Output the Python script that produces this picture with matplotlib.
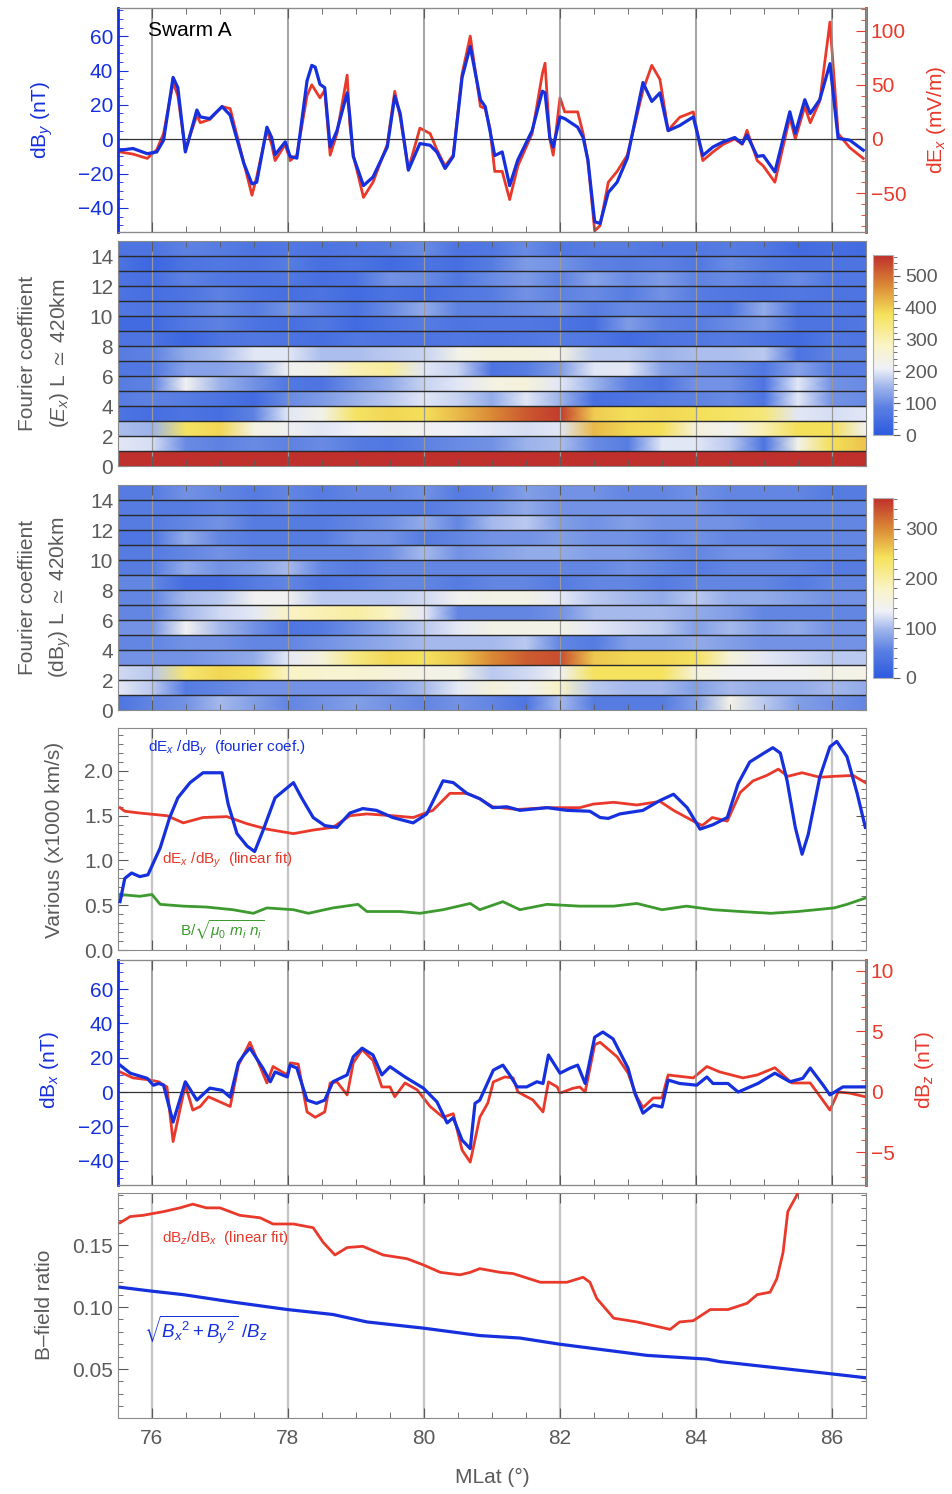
import numpy as np
import matplotlib
matplotlib.use("Agg")
import matplotlib.pyplot as plt
from matplotlib.colors import LinearSegmentedColormap, Normalize
from matplotlib.cm import ScalarMappable
from matplotlib.ticker import MultipleLocator, FormatStrFormatter

plt.rcParams["font.family"] = ["Liberation Sans", "DejaVu Sans"]
plt.rcParams["mathtext.fontset"] = "custom"
plt.rcParams["mathtext.rm"] = "Liberation Sans"
plt.rcParams["mathtext.it"] = "Liberation Sans:italic"
plt.rcParams["mathtext.fallback"] = "stixsans"

W, H = 953, 1494
BLUE = "#1530dc"
RED = "#e8392b"
GREEN = "#3d9a2f"
GRAY = "#5a5a5a"
XLIM = (75.5, 86.5)

# ---- panel 1: dBy (nT) and dEx (mV/m)
by_lat = [75.53, 75.72, 75.93, 76.07, 76.17, 76.31, 76.38, 76.49, 76.66, 76.71, 76.85, 77.03, 77.15,
          77.35, 77.47, 77.54, 77.69, 77.76, 77.81, 77.96, 78.03, 78.13, 78.28, 78.35, 78.40, 78.47,
          78.54, 78.62, 78.72, 78.87, 78.91, 78.96, 79.11, 79.25, 79.46, 79.57, 79.65, 79.77, 79.94,
          80.09, 80.19, 80.31, 80.43, 80.56, 80.68, 80.83, 80.90, 80.97, 81.04, 81.15, 81.26, 81.38,
          81.59, 81.74, 81.78, 81.85, 81.90, 82.00, 82.07, 82.26, 82.34, 82.41, 82.51, 82.59, 82.71,
          82.84, 82.99, 83.22, 83.35, 83.47, 83.59, 83.76, 83.96, 84.10, 84.25, 84.40, 84.57, 84.68,
          84.75, 84.90, 84.99, 85.16, 85.38, 85.46, 85.60, 85.68, 85.82, 85.97, 86.09, 86.26, 86.46]
by_val = [-6.4, -5.4, -8.4, -7.4, -0.6, 36, 30, -7.4, 17, 13, 12, 19, 14,
          -14, -26, -25, 7, 1, -9, -1.5, -10, -11, 34, 43, 42, 32,
          30, -4.5, 5, 27, 13, -10, -27, -22, -4.5, 25, 15, -18, -2.5,
          -3.5, -7.5, -17, -10, 36, 54, 23, 19, 5, -9.5, -7.4, -27, -12,
          5, 28, 27, 1, -4.5, 13, 12, 7, 1, -12, -48, -49, -31,
          -25, -11, 33, 22, 27, 5, 8, 13, -9.5, -4.5, -1.5, 1, -2.5,
          2.5, -10, -9.5, -19, 16, 3.5, 23, 15, 23, 44, 0.5, -0.5, -6.4]
ex_val = [-12, -14, -18, -10, 5, 52, 40, -10, 22, 15, 18, 30, 28,
          -22, -52, -35, 8, -5, -20, -5, -20, -15, 40, 50, 45, 38,
          45, -15, 5, 59, 13, -15, -54, -40, -5, 44, 20, -28, 10,
          5, -10, -25, -15, 60, 95, 30, 28, 10, -30, -30, -56, -25,
          5, 60, 70, 0, -15, 38, 25, 25, 5, -20, -85, -80, -40,
          -30, -15, 45, 68, 55, 8, 20, 25, -20, -12, -5, 0, -5,
          8, -20, -25, -40, 20, 0, 30, 15, 35, 108, 5, -8, -18]

# ---- panel 4: velocities (x1000 km/s)
four_lat = [75.53, 75.60, 75.70, 75.82, 75.94, 76.12, 76.26, 76.38, 76.56, 76.75, 77.03, 77.12, 77.25,
            77.40, 77.51, 77.63, 77.81, 78.08, 78.20, 78.37, 78.54, 78.72, 78.91, 79.10, 79.30, 79.54,
            79.84, 80.04, 80.28, 80.43, 80.63, 80.82, 81.01, 81.22, 81.41, 81.81, 82.10, 82.44, 82.59,
            82.71, 82.88, 83.22, 83.47, 83.67, 83.87, 84.06, 84.25, 84.46, 84.62, 84.79, 85.00, 85.13,
            85.24, 85.34, 85.46, 85.56, 85.65, 85.82, 85.97, 86.07, 86.22, 86.37, 86.49]
four_val = [0.54, 0.80, 0.86, 0.82, 0.84, 1.14, 1.48, 1.70, 1.87, 1.98, 1.98, 1.63, 1.30,
            1.16, 1.10, 1.33, 1.70, 1.87, 1.70, 1.48, 1.39, 1.37, 1.53, 1.58, 1.56, 1.48,
            1.42, 1.52, 1.89, 1.87, 1.75, 1.69, 1.59, 1.60, 1.56, 1.59, 1.56, 1.55, 1.48,
            1.47, 1.52, 1.56, 1.67, 1.74, 1.59, 1.35, 1.40, 1.48, 1.86, 2.10, 2.20, 2.26,
            2.20, 1.89, 1.37, 1.07, 1.29, 1.93, 2.27, 2.33, 2.16, 1.75, 1.37]
lin_lat = [75.53, 75.60, 75.82, 76.22, 76.46, 76.75, 77.10, 77.40, 77.69, 78.08, 78.37, 78.66, 78.91,
           79.16, 79.54, 79.84, 80.13, 80.38, 80.63, 80.82, 81.01, 81.37, 81.81, 82.29, 82.49, 82.79,
           83.13, 83.47, 83.67, 83.96, 84.09, 84.24, 84.46, 84.65, 84.84, 85.04, 85.21, 85.35, 85.56,
           85.82, 86.03, 86.31, 86.49]
lin_val = [1.59, 1.55, 1.53, 1.50, 1.42, 1.48, 1.49, 1.41, 1.35, 1.30, 1.34, 1.37, 1.50,
           1.52, 1.50, 1.48, 1.56, 1.75, 1.75, 1.69, 1.60, 1.57, 1.59, 1.59, 1.63, 1.65,
           1.62, 1.66, 1.56, 1.44, 1.39, 1.48, 1.44, 1.76, 1.89, 1.95, 2.02, 1.94, 1.98,
           1.93, 1.94, 1.95, 1.87]
alf_lat = [75.53, 75.82, 76.00, 76.12, 76.46, 76.80, 77.19, 77.49, 77.69, 78.08, 78.30, 78.66, 79.03,
           79.16, 79.65, 79.94, 80.28, 80.68, 80.82, 81.16, 81.41, 81.81, 82.29, 82.79, 83.13, 83.50,
           83.86, 84.25, 84.65, 85.10, 85.50, 86.03, 86.22, 86.49]
alf_val = [0.62, 0.60, 0.62, 0.51, 0.49, 0.48, 0.45, 0.41, 0.47, 0.45, 0.41, 0.47, 0.51,
           0.43, 0.43, 0.41, 0.45, 0.52, 0.45, 0.54, 0.45, 0.51, 0.49, 0.49, 0.52, 0.45,
           0.49, 0.45, 0.43, 0.41, 0.43, 0.47, 0.51, 0.58]

# ---- panel 5: dBx (nT) and dBz (nT)
bx_lat = [75.53, 75.68, 75.93, 76.02, 76.10, 76.17, 76.31, 76.49, 76.66, 76.85, 77.03, 77.15, 77.27,
          77.35, 77.44, 77.63, 77.74, 77.81, 77.99, 78.03, 78.13, 78.28, 78.42, 78.54, 78.66, 78.87,
          78.96, 79.09, 79.25, 79.38, 79.50, 79.72, 79.99, 80.19, 80.34, 80.43, 80.56, 80.68, 80.75,
          80.82, 81.02, 81.16, 81.26, 81.37, 81.51, 81.66, 81.75, 81.83, 82.00, 82.15, 82.26, 82.37,
          82.51, 82.63, 82.78, 83.00, 83.10, 83.22, 83.37, 83.50, 83.59, 83.76, 84.01, 84.16, 84.25,
          84.47, 84.62, 84.91, 85.16, 85.38, 85.57, 85.68, 85.87, 85.97, 86.16, 86.49]
bx_val = [15.7, 11, 8, 4, 5, 4, -17.5, 6, -4.7, 2.3, 1, -3, 17,
          21.6, 25.6, 14, 6, 11.7, 8.8, 15.7, 14, -4.7, -6.6, -4.7, 6, 10,
          20.6, 25.6, 21.6, 10, 14.8, 8.8, 2.3, -5.7, -18, -15, -28, -33, -6.6,
          -4.7, 12.8, 15.7, 10, 3, 3, 6, 5, 21.6, 11, 14, 15.7, 5,
          32, 35, 31, 14, -0.6, -12.3, -7.6, -8.7, 7, 5, 4, 8.8, 5,
          5, 0, 5, 11, 6, 8, 14, 4, -1.7, 3, 3]
bz_lat = [75.53, 75.72, 75.97, 76.10, 76.22, 76.31, 76.49, 76.60, 76.71, 76.83, 77.15, 77.27, 77.44,
          77.69, 77.78, 77.99, 78.03, 78.15, 78.28, 78.40, 78.54, 78.62, 78.72, 78.87, 78.96, 79.09,
          79.25, 79.38, 79.50, 79.57, 79.72, 79.90, 80.09, 80.28, 80.43, 80.56, 80.68, 80.82, 80.94,
          81.02, 81.19, 81.31, 81.38, 81.60, 81.75, 81.83, 81.96, 82.00, 82.19, 82.29, 82.37, 82.51,
          82.59, 82.84, 83.00, 83.13, 83.22, 83.37, 83.50, 83.59, 83.96, 84.16, 84.35, 84.69, 84.90,
          85.16, 85.41, 85.68, 85.97, 86.09, 86.26, 86.49]
bz_val = [1.65, 1.16, 0.99, 0.83, 0.41, -4.1, 0.58, -1.5, -1.2, -0.4, -1.2, 2.2, 4.1,
          0.74, 2.1, 1.4, 2.4, 2.3, -1.65, -2.1, -1.65, 0.74, 0.83, -0.25, 2.4, 3.5,
          2.6, 0.41, 0.41, -0.4, 0.74, 0.17, -1.2, -2.1, -1.8, -4.8, -5.8, -2.1, -0.9,
          0.83, 1.24, 1.16, 0.0, -0.66, -1.65, 0.83, 0.41, -0.1, 0.3, 0.41, 0.0, 3.9,
          4.1, 2.9, 1.57, -0.4, -1.3, -0.5, -0.5, 1.4, 1.16, 2.1, 1.65, 1.16, 1.4,
          2.0, 0.74, 0.74, -1.5, 0.0, -0.1, -0.4]

# ---- panel 6: B-field ratios
zx_lat = [75.53, 75.68, 75.87, 76.17, 76.41, 76.60, 76.80, 77.00, 77.29, 77.59, 77.78, 78.08, 78.37,
          78.52, 78.69, 78.87, 79.10, 79.40, 79.75, 79.99, 80.24, 80.53, 80.68, 80.82, 81.12, 81.31,
          81.71, 82.10, 82.34, 82.44, 82.54, 82.79, 83.13, 83.62, 83.76, 83.96, 84.21, 84.47, 84.75,
          84.90, 85.09, 85.19, 85.28, 85.35, 85.48, 85.56]
zx_val = [0.168, 0.173, 0.174, 0.177, 0.180, 0.183, 0.180, 0.180, 0.174, 0.172, 0.167, 0.167, 0.164,
          0.152, 0.142, 0.148, 0.149, 0.142, 0.139, 0.134, 0.128, 0.126, 0.128, 0.131, 0.128, 0.127,
          0.120, 0.120, 0.124, 0.120, 0.107, 0.091, 0.088, 0.082, 0.088, 0.089, 0.098, 0.098, 0.103,
          0.110, 0.112, 0.123, 0.144, 0.177, 0.190, 0.205]
hz_lat = [75.53, 75.97, 76.46, 77.19, 77.99, 78.66, 79.16, 79.99, 80.82, 81.41, 82.00, 83.28, 84.16,
          84.35, 86.01, 86.49]
hz_val = [0.116, 0.113, 0.110, 0.104, 0.098, 0.094, 0.088, 0.083, 0.077, 0.075, 0.070, 0.061, 0.058,
          0.056, 0.046, 0.043]

# ---- panels 2 and 3: Fourier coefficient amplitudes, rows are harmonic numbers 0..14
fc_lat = [75.5, 76.0, 76.5, 77.0, 77.5, 78.0, 78.5, 79.0, 79.5, 80.0, 80.5, 81.0,
          81.5, 82.0, 82.5, 83.0, 83.5, 84.0, 84.5, 85.0, 85.5, 86.0, 86.5]
fc_ex = [
    [600] * 23,
    [200, 190, 100, 90, 100, 90, 100, 80, 70, 90, 100, 110, 150, 160, 100, 80, 200, 200, 170, 60, 230, 380, 410],
    [160, 150, 370, 390, 240, 220, 200, 210, 230, 220, 210, 200, 190, 200, 420, 390, 380, 250, 220, 300, 380, 380, 220],
    [60, 50, 60, 50, 90, 200, 230, 370, 390, 380, 420, 470, 520, 550, 400, 380, 390, 380, 370, 350, 200, 190, 200],
    [80, 90, 80, 60, 40, 100, 120, 150, 170, 200, 180, 140, 200, 150, 50, 60, 80, 90, 100, 60, 200, 110, 100],
    [80, 90, 220, 150, 110, 70, 60, 110, 140, 180, 200, 240, 250, 200, 150, 90, 60, 110, 110, 60, 200, 110, 100],
    [70, 70, 130, 130, 150, 220, 230, 300, 320, 200, 180, 60, 80, 120, 200, 200, 130, 110, 100, 70, 130, 80, 80],
    [80, 90, 140, 160, 200, 200, 160, 160, 170, 180, 230, 250, 250, 240, 170, 170, 150, 160, 160, 170, 60, 90, 90],
    [60, 60, 30, 60, 70, 60, 50, 70, 60, 60, 70, 60, 70, 80, 70, 40, 60, 70, 80, 60, 40, 70, 60],
    [40, 40, 70, 90, 60, 50, 70, 40, 60, 80, 60, 70, 70, 60, 50, 120, 90, 80, 100, 120, 60, 60, 70],
    [70, 60, 80, 100, 80, 110, 90, 60, 100, 140, 90, 90, 100, 110, 80, 100, 90, 80, 70, 140, 60, 70, 60],
    [60, 50, 60, 90, 60, 50, 60, 40, 60, 50, 70, 80, 110, 90, 100, 80, 110, 80, 70, 60, 70, 60, 60],
    [60, 50, 90, 70, 60, 70, 50, 60, 110, 100, 70, 100, 120, 90, 130, 100, 120, 90, 100, 80, 100, 70, 70],
    [60, 30, 60, 70, 60, 80, 50, 60, 40, 60, 50, 80, 120, 110, 90, 80, 90, 70, 100, 80, 60, 60, 60],
    [60, 60, 90, 80, 60, 70, 60, 70, 80, 100, 60, 70, 100, 70, 80, 80, 70, 70, 80, 70, 40, 50, 40],
]
fc_by = [
    [40, 60, 70, 100, 80, 60, 70, 80, 70, 60, 70, 60, 40, 100, 50, 50, 50, 80, 150, 110, 80, 70, 60],
    [130, 110, 50, 60, 70, 70, 70, 70, 80, 100, 130, 160, 140, 180, 110, 100, 100, 80, 100, 90, 90, 100, 90],
    [120, 110, 230, 250, 240, 180, 170, 170, 160, 150, 150, 110, 120, 140, 240, 240, 240, 160, 140, 140, 140, 150, 150],
    [70, 70, 70, 80, 90, 130, 160, 220, 250, 240, 260, 300, 330, 340, 260, 250, 250, 240, 160, 130, 120, 110, 110],
    [60, 60, 70, 70, 60, 60, 70, 80, 90, 100, 100, 100, 110, 60, 50, 80, 80, 90, 80, 70, 70, 70, 70],
    [70, 70, 140, 100, 70, 40, 50, 70, 90, 110, 130, 150, 150, 150, 130, 120, 110, 80, 100, 80, 90, 70, 70],
    [60, 60, 100, 120, 130, 180, 190, 200, 180, 130, 60, 60, 60, 70, 100, 100, 100, 90, 80, 60, 60, 60, 60],
    [60, 60, 100, 110, 140, 140, 110, 110, 110, 120, 140, 150, 150, 130, 110, 100, 90, 110, 90, 90, 80, 70, 70],
    [60, 60, 30, 30, 50, 60, 40, 50, 60, 60, 50, 60, 60, 50, 60, 60, 50, 60, 60, 60, 50, 60, 60],
    [50, 50, 90, 70, 80, 100, 60, 50, 60, 60, 60, 60, 60, 60, 60, 70, 60, 50, 60, 60, 60, 50, 50],
    [50, 50, 60, 70, 60, 60, 60, 60, 70, 100, 70, 80, 90, 90, 80, 80, 70, 60, 70, 70, 60, 60, 60],
    [40, 40, 90, 60, 50, 50, 50, 70, 70, 50, 60, 70, 70, 80, 70, 70, 60, 70, 60, 60, 60, 60, 60],
    [50, 50, 60, 70, 50, 50, 50, 60, 70, 90, 60, 100, 110, 80, 70, 80, 70, 70, 70, 60, 60, 60, 60],
    [50, 50, 50, 60, 50, 60, 50, 50, 50, 50, 60, 70, 90, 70, 70, 70, 70, 70, 60, 60, 60, 60, 60],
    [50, 50, 70, 60, 50, 60, 50, 60, 60, 70, 50, 60, 80, 70, 70, 60, 60, 70, 60, 60, 60, 50, 50],
]

TEMP_MAP = LinearSegmentedColormap.from_list("temperature", [
    (0.00, "#2d5ae0"), (0.15, "#5a7fe2"), (0.26, "#9ab1ea"), (0.37, "#eff1f8"),
    (0.50, "#faf3c4"), (0.67, "#f5e25a"), (0.83, "#db8a36"), (1.00, "#bf2f2b")])


def px_axes(fig, x0, y0, x1, y1):
    return fig.add_axes([x0 / W, 1 - y1 / H, (x1 - x0) / W, (y1 - y0) / H])


def style_x(ax, labels=False, grid_color="#8a8a8a", grid_lw=1.1):
    ax.set_xlim(*XLIM)
    ax.xaxis.set_major_locator(MultipleLocator(2))
    ax.xaxis.set_minor_locator(MultipleLocator(0.5))
    ax.tick_params(axis="x", which="both", direction="in", top=True, bottom=True,
                   colors=GRAY, labelsize=15, labelbottom=labels)
    ax.tick_params(axis="x", which="major", length=7)
    ax.tick_params(axis="x", which="minor", length=4)
    for x in range(76, 87, 2):
        ax.axvline(x, color=grid_color, lw=grid_lw, zorder=1)
    for s in ax.spines.values():
        s.set_color("#8a8a8a")


def style_y(ax, color, major, minor, fmt=None):
    ax.yaxis.set_major_locator(MultipleLocator(major))
    ax.yaxis.set_minor_locator(MultipleLocator(minor))
    ax.tick_params(axis="y", which="both", direction="in", colors=color, labelsize=15)
    ax.tick_params(axis="y", which="major", length=7)
    ax.tick_params(axis="y", which="minor", length=3.5)
    if fmt:
        ax.yaxis.set_major_formatter(FormatStrFormatter(fmt))


def draw_heatmap(fig, box, cbox, rows, vmax, cticks):
    ax = px_axes(fig, *box)
    norm = Normalize(0, vmax)
    for k, row in enumerate(rows):
        xx = np.vstack([fc_lat, fc_lat])
        yy = np.array([[k] * len(fc_lat), [k + 1] * len(fc_lat)])
        cc = np.clip(np.vstack([row, row]), 0, vmax)
        ax.pcolormesh(xx, yy, cc, shading="gouraud", cmap=TEMP_MAP, norm=norm, zorder=0)
    ax.hlines(np.arange(1, len(rows)), *XLIM, color="#2a2a2a", lw=1.0, zorder=2)
    ax.set_ylim(0, len(rows))
    style_x(ax, grid_color="#9a9a9a", grid_lw=0.9)
    style_y(ax, GRAY, 2, 1)
    ax.tick_params(axis="y", which="both", right=True)

    cax = px_axes(fig, *cbox)
    cb = fig.colorbar(ScalarMappable(norm=norm, cmap=TEMP_MAP), cax=cax, ticks=cticks)
    cb.outline.set_edgecolor("#b0b0b0")
    cax.yaxis.set_minor_locator(MultipleLocator(20))
    cax.tick_params(which="both", colors=GRAY, labelsize=14, direction="out")
    cax.tick_params(which="major", length=5)
    cax.tick_params(which="minor", length=3)
    return ax


def main():
    fig = plt.figure(figsize=(W / 100, H / 100), dpi=100)

    # panel 1
    ax1 = px_axes(fig, 118, 8, 866, 232)
    ax1r = ax1.twinx()
    ax1r.plot(by_lat, ex_val, color=RED, lw=2.0, zorder=3)
    ax1.plot(by_lat, by_val, color=BLUE, lw=2.3, zorder=4)
    ax1.set_zorder(ax1r.get_zorder() + 1)
    ax1.patch.set_visible(False)
    ax1.axhline(0, color="#333333", lw=0.9, zorder=2)
    ax1.set_ylim(-54, 76.4)
    ax1r.set_ylim(-86, 121)
    style_x(ax1)
    style_y(ax1, BLUE, 20, 5)
    style_y(ax1r, RED, 50, 10)
    ax1.spines["left"].set_color(BLUE)
    ax1.spines["left"].set_linewidth(2)
    ax1r.spines["right"].set_color(RED)
    ax1r.spines["right"].set_linewidth(2)
    ax1r.spines["left"].set_visible(False)
    ax1.text(0.04, 0.90, "Swarm A", transform=ax1.transAxes, fontsize=15, color="black", va="center")
    fig.text(42 / W, 1 - 120 / H, r"dB$_y$ (nT)", color=BLUE, fontsize=15,
             rotation=90, ha="center", va="center")
    fig.text(937 / W, 1 - 120 / H, r"dE$_x$ (mV/m)", color=RED, fontsize=15,
             rotation=90, ha="center", va="center")

    # panels 2 and 3
    draw_heatmap(fig, (118, 241, 866, 466), (873, 255, 893, 435), fc_ex, 565, range(0, 501, 100))
    draw_heatmap(fig, (118, 485, 866, 710), (873, 498, 893, 678), fc_by, 362, range(0, 301, 100))
    fig.text(28 / W, 1 - 353 / H, "Fourier coeffiient", color=GRAY, fontsize=15,
             rotation=90, ha="center", va="center")
    fig.text(60 / W, 1 - 353 / H, r"($E_x$) L $\simeq$ 420km", color=GRAY, fontsize=15,
             rotation=90, ha="center", va="center")
    fig.text(28 / W, 1 - 597 / H, "Fourier coeffiient", color=GRAY, fontsize=15,
             rotation=90, ha="center", va="center")
    fig.text(60 / W, 1 - 597 / H, r"(dB$_y$) L $\simeq$ 420km", color=GRAY, fontsize=15,
             rotation=90, ha="center", va="center")

    # panel 4
    ax4 = px_axes(fig, 118, 728, 866, 950)
    ax4.plot(alf_lat, alf_val, color=GREEN, lw=2.0, zorder=3)
    ax4.plot(lin_lat, lin_val, color=RED, lw=2.0, zorder=3)
    ax4.plot(four_lat, four_val, color=BLUE, lw=2.3, zorder=4)
    ax4.set_ylim(0, 2.48)
    style_x(ax4, grid_color="#c4c4c4", grid_lw=1.6)
    style_y(ax4, GRAY, 0.5, 0.1, "%.1f")
    ax4.tick_params(axis="y", which="both", right=True)
    fig.text(148 / W, 1 - 748 / H, r"dE$_{x}$ /dB$_{y}$  (fourier coef.)", color=BLUE,
             fontsize=11, va="center")
    fig.text(162 / W, 1 - 860 / H, r"dE$_{x}$ /dB$_{y}$  (linear fit)", color=RED,
             fontsize=11, va="center")
    fig.text(180 / W, 1 - 930 / H, r"B/$\sqrt{\mu_0\ m_i\ n_i}$", color=GREEN,
             fontsize=11, va="center")
    fig.text(55 / W, 1 - 840 / H, "Various (x1000 km/s)", color=GRAY, fontsize=15,
             rotation=90, ha="center", va="center")

    # panel 5
    ax5 = px_axes(fig, 118, 960, 866, 1185)
    ax5r = ax5.twinx()
    ax5r.plot(bz_lat, bz_val, color=RED, lw=2.0, zorder=3)
    ax5.plot(bx_lat, bx_val, color=BLUE, lw=2.3, zorder=4)
    ax5.set_zorder(ax5r.get_zorder() + 1)
    ax5.patch.set_visible(False)
    ax5.axhline(0, color="#333333", lw=0.9, zorder=2)
    ax5.set_ylim(-54.2, 77)
    ax5r.set_ylim(-7.69, 10.9)
    style_x(ax5)
    style_y(ax5, BLUE, 20, 5)
    style_y(ax5r, RED, 5, 1)
    ax5.spines["left"].set_color(BLUE)
    ax5.spines["left"].set_linewidth(2)
    ax5r.spines["right"].set_color(RED)
    ax5r.spines["right"].set_linewidth(2)
    ax5r.spines["left"].set_visible(False)
    fig.text(50 / W, 1 - 1070 / H, r"dB$_x$ (nT)", color=BLUE, fontsize=15,
             rotation=90, ha="center", va="center")
    fig.text(925 / W, 1 - 1070 / H, r"dB$_z$ (nT)", color=RED, fontsize=15,
             rotation=90, ha="center", va="center")

    # panel 6
    ax6 = px_axes(fig, 118, 1193, 866, 1418)
    ax6.plot(zx_lat, zx_val, color=RED, lw=2.0, zorder=3)
    ax6.plot(hz_lat, hz_val, color=BLUE, lw=2.3, zorder=4)
    ax6.set_ylim(0.0105, 0.192)
    style_x(ax6, labels=True, grid_color="#c4c4c4", grid_lw=1.6)
    style_y(ax6, GRAY, 0.05, 0.01, "%.2f")
    ax6.tick_params(axis="y", which="both", right=True)
    ax6.tick_params(axis="x", pad=8)
    fig.text(162 / W, 1 - 1238 / H, r"dB$_{z}$/dB$_{x}$  (linear fit)", color=RED,
             fontsize=11, va="center")
    fig.text(144 / W, 1 - 1330 / H, r"$\sqrt{B_x{}^2+B_y{}^2}$ /$B_z$", color=BLUE,
             fontsize=13.5, va="center")
    fig.text(45 / W, 1 - 1305 / H, "B–field ratio", color=GRAY, fontsize=15,
             rotation=90, ha="center", va="center")
    fig.text(492 / W, 1 - 1477 / H, "MLat (°)", color=GRAY, fontsize=15,
             ha="center", va="center")

    fig.savefig("out.png", dpi=100)
    plt.close(fig)


if __name__ == "__main__":
    main()
